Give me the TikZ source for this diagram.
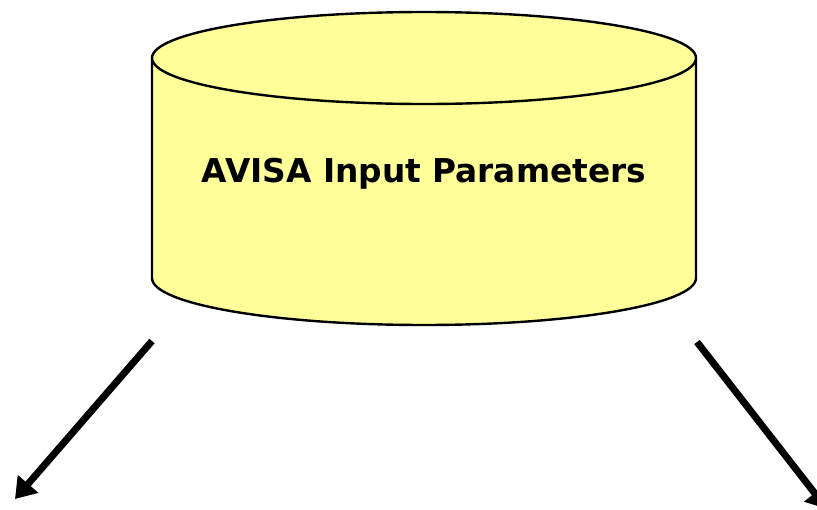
\documentclass[tikz,border=0pt]{standalone}
\usepackage{fontspec}
\setmainfont{DejaVu Sans}
\usetikzlibrary{arrows.meta}
\definecolor{cylfill}{HTML}{FFFF99}
\begin{document}
\begin{tikzpicture}[x=1pt,y=-1pt,
  outline/.style={draw=black,line width=2.4pt},
  bigarrow/.style={draw=black,line width=7pt,-{Triangle[length=20pt,width=26pt]}}]
\useasboundingbox (0,0) rectangle (817,509);
\clip (0,0) rectangle (817,509);
% cylinder body
\path[fill=cylfill] (152,58) -- (152,278) arc[start angle=180,end angle=360,x radius=272,y radius=-47] -- (696,58) -- cycle;
\draw[outline] (152,58) -- (152,278) arc[start angle=180,end angle=360,x radius=272,y radius=-47] -- (696,58);
\draw[outline,fill=cylfill] (424,58) ellipse[x radius=272,y radius=46];
\node[anchor=base,font=\fontsize{32.8}{38}\selectfont\bfseries,inner sep=0pt] (title) at (424,182) {AVISA Input Parameters};
\coordinate (la) at (152,341);
\coordinate (lb) at (15,499);
\coordinate (ra) at (697,342);
\coordinate (rb) at (827,509);
\draw[bigarrow] (la) -- (lb);
\draw[bigarrow] (ra) -- (rb);
\end{tikzpicture}
\end{document}
